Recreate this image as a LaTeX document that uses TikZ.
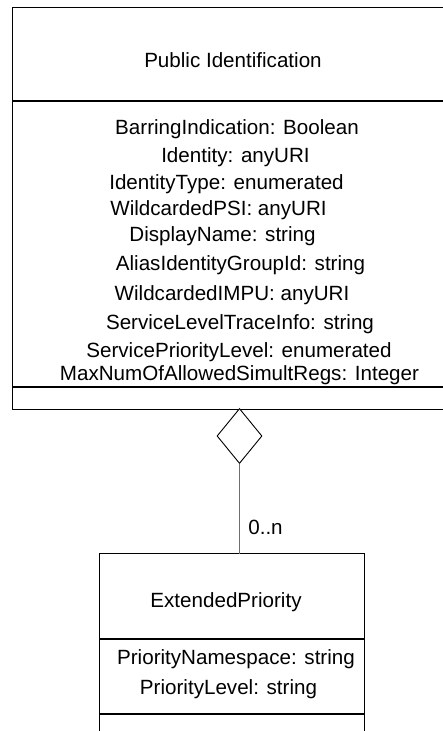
\documentclass[tikz,border=0pt]{standalone}
\usepackage{fontspec}
\setmainfont{Liberation Sans}
\usetikzlibrary{shapes.geometric}
\begin{document}
\begin{tikzpicture}[x=1pt,y=-1pt,
  txt/.style={anchor=base,inner sep=0pt,font=\fontsize{20.6}{24}\selectfont},
  frame/.style={draw=black,line width=1pt},
  sep/.style={draw=black,line width=1.3pt},
  thicksep/.style={draw=black,line width=2pt},
  conn/.style={draw={rgb,255:red,68;green,114;blue,196},line width=0.9pt},
  aggr/.style={diamond,draw=black,line width=0.9pt,fill=white,inner sep=0pt,minimum width=45pt,minimum height=55pt}]
\useasboundingbox (0,0) rectangle (443,731);
\clip (0,0) rectangle (443,731);
% Public Identification class
\draw[frame] (12.5,7.5) rectangle (460,409);
\draw[sep] (12.5,101) -- (460,101);
\draw[thicksep] (12.5,386.5) -- (460,386.5);
\node[txt] (pi) at (233,67) {Public Identification};
\node[txt] (a1) at (237,134) {BarringIndication: Boolean};
\node[txt] (a2) at (235.5,162) {Identity: anyURI};
\node[txt] (a3) at (226.5,189) {IdentityType: enumerated};
\node[txt] (a4) at (218.5,215) {WildcardedPSI: anyURI};
\node[txt] (a5) at (222.5,241) {DisplayName: string};
\node[txt] (a6) at (240.5,270) {AliasIdentityGroupId: string};
\node[txt] (a7) at (232,300) {WildcardedIMPU: anyURI};
\node[txt] (a8) at (240,329) {ServiceLevelTraceInfo: string};
\node[txt] (a9) at (239,357) {ServicePriorityLevel: enumerated};
\node[txt] (a10) at (239.5,380) {MaxNumOfAllowedSimultRegs: Integer};
% Extended Priority class
\draw[frame] (99,553.5) rectangle (364,760);
\draw[sep] (99,639) -- (364,639);
\draw[sep] (99,714) -- (364,714);
\coordinate (eptop) at (239.5,553.5);
\node[txt] (ep) at (226,607) {ExtendedPriority};
\node[txt] (b1) at (236,664) {PriorityNamespace: string};
\node[txt] (b2) at (228.5,694) {PriorityLevel: string};
% aggregation
\node[aggr] (agg) at (239.5,436) {};
\draw[conn] (agg.south) -- (eptop);
\node[txt] (mult) at (265.5,534) {0..n};
\end{tikzpicture}
\end{document}
